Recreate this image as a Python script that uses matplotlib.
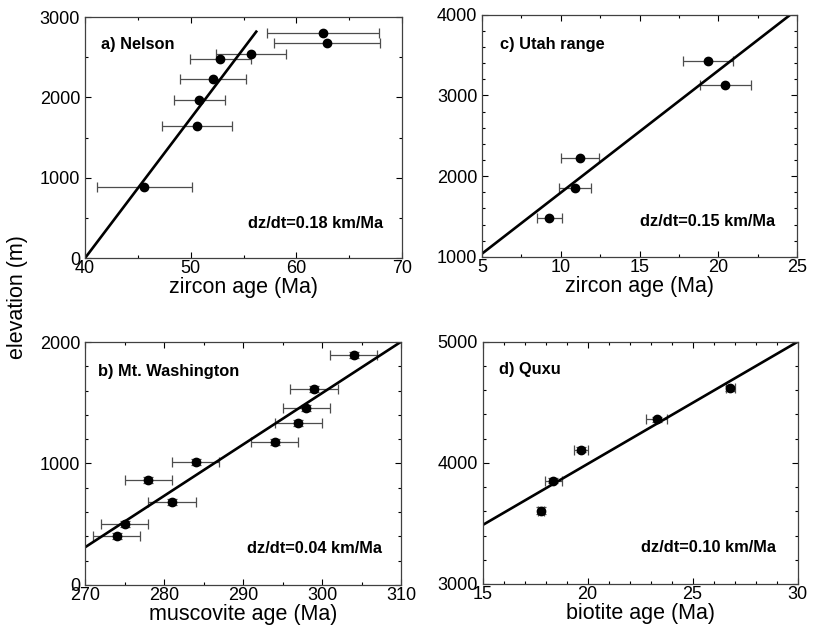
#elevation vs cooling age for four transects
import matplotlib
matplotlib.use("Agg")
import matplotlib.pyplot as plt
from matplotlib.ticker import MultipleLocator

# a) Nelson, zircon ages
nelson_age = [62.5, 62.9, 55.7, 52.8, 52.1, 50.8, 50.6, 45.6]
nelson_err = [5.3, 5.0, 3.3, 2.9, 3.1, 2.4, 3.3, 4.5]
nelson_elev = [2800, 2680, 2540, 2480, 2230, 1970, 1650, 880]
nelson_fit_x = [40, 56.2]
nelson_fit_y = [0, 2818]

# b) Mt. Washington, muscovite ages
wash_age = [304.0, 299.0, 298.0, 297.0, 294.0, 284.0, 278.0, 281.0, 275.0, 274.0]
wash_err = [3, 3, 3, 3, 3, 3, 3, 3, 3, 3]
wash_elev = [1893, 1610, 1459, 1331, 1174, 1015, 862, 681, 499, 403]
wash_elev_err = [25, 25, 25, 25, 25, 25, 25, 25, 25, 25]
wash_fit_x = [270, 310]
wash_fit_y = [310, 2002]

# c) Utah range, zircon ages
utah_age = [19.35, 20.45, 11.2, 10.9, 9.27]
utah_err = [1.6, 1.6, 1.2, 1.0, 0.8]
utah_elev = [3430, 3128, 2219, 1847, 1487]
utah_fit_x = [5, 24.56]
utah_fit_y = [1040, 4000]

# d) Quxu, biotite ages
quxu_age = [26.8, 23.3, 19.68, 18.37, 17.78]
quxu_err = [0.23, 0.5, 0.32, 0.4, 0.13]
quxu_elev = [4617, 4361, 4107, 3854, 3606]
quxu_elev_err = [20, 20, 20, 20, 30]
quxu_fit_x = [15, 30]
quxu_fit_y = [3486, 4999]


def style_axes(ax, xlim, ylim, xmaj, xmin, ymaj, ymin):
    ax.set_xlim(xlim)
    ax.set_ylim(ylim)
    ax.xaxis.set_major_locator(MultipleLocator(xmaj))
    ax.xaxis.set_minor_locator(MultipleLocator(xmin))
    ax.yaxis.set_major_locator(MultipleLocator(ymaj))
    ax.yaxis.set_minor_locator(MultipleLocator(ymin))
    ax.tick_params(which='both', direction='in', top=True, right=True, labelsize=13)
    ax.tick_params(axis='x', pad=1.5)
    ax.tick_params(axis='y', pad=3.5)
    ax.tick_params(which='major', length=4, width=0.8)
    ax.tick_params(which='minor', length=2.5, width=0.8)
    for s in ax.spines.values():
        s.set_linewidth(0.9)
        s.set_color('0.25')


def main():
    plt.rcParams['font.family'] = ['Liberation Sans', 'DejaVu Sans']

    fig = plt.figure(figsize=(8.13, 6.31), dpi=100)
    ax_a = fig.add_axes([0.1046, 0.591, 0.390, 0.382])
    ax_c = fig.add_axes([0.593, 0.593, 0.3875, 0.3835])
    ax_b = fig.add_axes([0.1046, 0.073, 0.3887, 0.385])
    ax_d = fig.add_axes([0.5935, 0.0745, 0.3875, 0.384])

    eb = dict(fmt='o', color='black', ms=6, ecolor='0.3', elinewidth=0.9, capsize=3.5, capthick=0.9)
    lab = dict(fontsize=11.8, fontweight='bold')

    # a
    ax_a.errorbar(nelson_age, nelson_elev, xerr=nelson_err, **eb)
    ax_a.plot(nelson_fit_x, nelson_fit_y, color='black', lw=1.9)
    style_axes(ax_a, (40, 70), (0, 3000), 10, 5, 1000, 500)
    ax_a.set_xlabel('zircon age (Ma)', fontsize=15.5, labelpad=0)
    ax_a.text(0.05, 0.884, 'a) Nelson', transform=ax_a.transAxes, va='center', **lab)
    ax_a.text(0.94, 0.145, 'dz/dt=0.18 km/Ma', transform=ax_a.transAxes, ha='right', va='center', **lab)

    # c
    ax_c.errorbar(utah_age, utah_elev, xerr=utah_err, **eb)
    ax_c.plot(utah_fit_x, utah_fit_y, color='black', lw=1.9)
    style_axes(ax_c, (5, 25), (1000, 4000), 5, 2.5, 1000, 200)
    ax_c.set_xlabel('zircon age (Ma)', fontsize=15.5, labelpad=0)
    ax_c.text(0.057, 0.876, 'c) Utah range', transform=ax_c.transAxes, va='center', **lab)
    ax_c.text(0.93, 0.146, 'dz/dt=0.15 km/Ma', transform=ax_c.transAxes, ha='right', va='center', **lab)

    # b
    ax_b.errorbar(wash_age, wash_elev, xerr=wash_err, yerr=wash_elev_err, **eb)
    ax_b.plot(wash_fit_x, wash_fit_y, color='black', lw=1.9)
    style_axes(ax_b, (270, 310), (0, 2000), 10, 5, 1000, 200)
    ax_b.set_xlabel('muscovite age (Ma)', fontsize=15.5, labelpad=0)
    ax_b.text(0.042, 0.88, 'b) Mt. Washington', transform=ax_b.transAxes, va='center', **lab)
    ax_b.text(0.94, 0.151, 'dz/dt=0.04 km/Ma', transform=ax_b.transAxes, ha='right', va='center', **lab)

    # d
    ax_d.errorbar(quxu_age, quxu_elev, xerr=quxu_err, yerr=quxu_elev_err, **eb)
    ax_d.plot(quxu_fit_x, quxu_fit_y, color='black', lw=1.9)
    style_axes(ax_d, (15, 30), (3000, 5000), 5, 1, 1000, 200)
    ax_d.set_xlabel('biotite age (Ma)', fontsize=15.5, labelpad=0)
    ax_d.text(0.052, 0.884, 'd) Quxu', transform=ax_d.transAxes, va='center', **lab)
    ax_d.text(0.93, 0.149, 'dz/dt=0.10 km/Ma', transform=ax_d.transAxes, ha='right', va='center', **lab)

    fig.text(17 / 813, 1 - 297 / 631, 'elevation (m)', rotation=90, ha='center', va='center', fontsize=15.5)

    fig.savefig('out.png', dpi=100)


if __name__ == "__main__":
    main()
